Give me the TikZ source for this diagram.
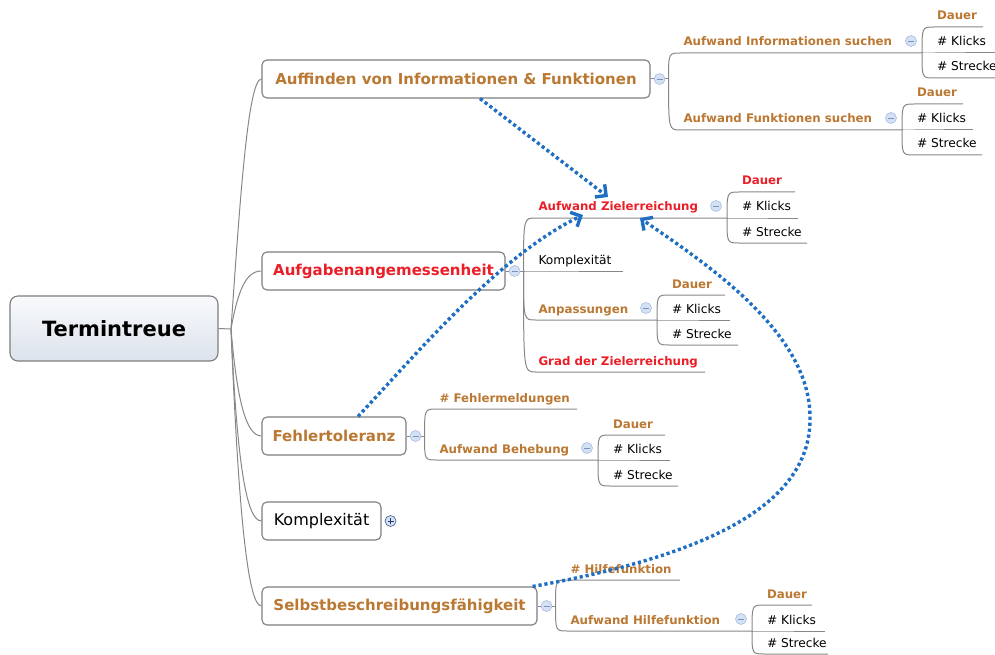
\documentclass[tikz,border=0pt]{standalone}
\usepackage{fontspec}
\setmainfont{DejaVu Sans}
\usetikzlibrary{calc,arrows.meta}

\definecolor{linegray}{RGB}{135,135,135}
\definecolor{boxgray}{RGB}{125,125,125}
\definecolor{mmbrown}{RGB}{186,120,50}
\definecolor{mmred}{RGB}{235,30,40}
\definecolor{linkblue}{RGB}{30,110,195}
\definecolor{cfill}{RGB}{212,225,245}
\definecolor{cdraw}{RGB}{165,188,225}
\definecolor{csign}{RGB}{125,145,185}
\definecolor{pdraw}{RGB}{80,105,150}
\definecolor{psign}{RGB}{40,60,100}
\definecolor{roottop}{RGB}{248,250,252}
\definecolor{rootbot}{RGB}{220,226,236}

\newcommand\fontroot{\fontsize{21}{25}\selectfont\bfseries}
\newcommand\fonttopic{\fontsize{15}{18}\selectfont\bfseries}
\newcommand\fonttopicreg{\fontsize{16}{19}\selectfont}
\newcommand\fontsub{\fontsize{11.8}{14}\selectfont\bfseries}
\newcommand\fontsubreg{\fontsize{12.2}{14}\selectfont}

% one sub-topic: curved connector from the hub, underline, label above it
% #1 hub, #2 name (end of underline), #3 end point, #4 label style, #5 text
\newcommand\mmleaf[5]{%
  \coordinate (#2) at #3;
  \draw[conn] (#1) .. controls (#1 |- #2) .. ($(#1 |- #2)+(12,0)$) -- (#2);
  \node[#4] (#2-t) at ($(#1 |- #2)+(15,-7)$) {#5};
}

\begin{document}
\begin{tikzpicture}[x=1pt,y=-1pt,
  conn/.style={draw=linegray, line width=1pt},
  topic/.style={draw=boxgray, line width=1.1pt, rounded corners=5pt, fill=white,
    minimum height=38pt, inner sep=0pt},
  lbl/.style={anchor=base west, inner sep=0pt, outer sep=0pt},
  subbrown/.style={lbl, text=mmbrown, font=\fontsub},
  subred/.style={lbl, text=mmred, font=\fontsub},
  subplain/.style={lbl, text=black, font=\fontsubreg},
  collapse/.style={circle, draw=cdraw, fill=cfill, line width=0.6pt,
    minimum size=11pt, inner sep=0pt,
    path picture={\draw[csign, line width=0.9pt]
      ([xshift=-3pt]path picture bounding box.center) --
      ([xshift=3pt]path picture bounding box.center);}},
  expand/.style={circle, draw=pdraw, fill=cfill, line width=0.7pt,
    minimum size=11pt, inner sep=0pt,
    path picture={\draw[psign, line width=0.9pt]
      ([xshift=-3pt]path picture bounding box.center) --
      ([xshift=3pt]path picture bounding box.center)
      ([yshift=-3pt]path picture bounding box.center) --
      ([yshift=3pt]path picture bounding box.center);}},
  link/.style={draw=linkblue, line width=3.4pt, dash pattern=on 3.2pt off 2.8pt,
    -{Straight Barb[length=8pt,width=16pt]}},
]
\useasboundingbox (0,0) rectangle (995,655);

% central topic
\node[draw=boxgray, line width=1.1pt, rounded corners=8pt,
  top color=roottop, bottom color=rootbot,
  minimum width=208pt, minimum height=65pt, inner sep=0pt, font=\fontroot]
  (R) at (114,328.5) {Termintreue};
\coordinate (Rh) at (231,329);

% main topics
\node[topic, minimum width=388pt, text=mmbrown, font=\fonttopic] (A) at (456,79)
  {Auffinden von Informationen \& Funktionen};
\node[topic, minimum width=243pt, text=mmred, font=\fonttopic] (B) at (383.5,271)
  {Aufgabenangemessenheit};
\node[topic, minimum width=144pt, text=mmbrown, font=\fonttopic] (C) at (334,436)
  {Fehlertoleranz};
\node[topic, minimum width=119pt, text=black, font=\fonttopicreg] (D) at (321.5,521)
  {Komplexität};
\node[topic, minimum width=275pt, text=mmbrown, font=\fonttopic] (E) at (399.5,606)
  {Selbstbeschreibungsfähigkeit};

% connectors from the central topic
\draw[conn] (R.east) -- (Rh);
\draw[conn] (Rh) .. controls (240,200) and (248,79) .. (A.west);
\draw[conn] (Rh) .. controls (238,290) and (246,271) .. (B.west);
\draw[conn] (Rh) .. controls (237,400) and (246,436) .. (C.west);
\draw[conn] (Rh) .. controls (237,460) and (246,521) .. (D.west);
\draw[conn] (Rh) .. controls (238,500) and (247,606) .. (E.west);

% hubs of the main topics
\foreach \t in {A,B,C,E} {
  \coordinate (\t h) at ($(\t.east)+(18,0)$);
  \draw[conn] (\t.east) -- (\t h);
}

% Auffinden von Informationen & Funktionen
\mmleaf{Ah}{A1}{(922,53)}{subbrown}{Aufwand Informationen suchen}
\mmleaf{Ah}{A2}{(902,130)}{subbrown}{Aufwand Funktionen suchen}
\mmleaf{A1}{A1a}{(983,27)}{subbrown}{Dauer}
\mmleaf{A1}{A1b}{(995,53)}{subplain}{\# Klicks}
\mmleaf{A1}{A1c}{(995,78)}{subplain}{\# Strecke}
\mmleaf{A2}{A2a}{(963,104)}{subbrown}{Dauer}
\mmleaf{A2}{A2b}{(973,130)}{subplain}{\# Klicks}
\mmleaf{A2}{A2c}{(982,155)}{subplain}{\# Strecke}

% Aufgabenangemessenheit
\mmleaf{Bh}{B1}{(727,218)}{subred}{Aufwand Zielerreichung}
\mmleaf{Bh}{B2}{(623,271)}{subplain}{Komplexität}
\mmleaf{Bh}{B3}{(657,320)}{subbrown}{Anpassungen}
\mmleaf{Bh}{B4}{(705,372)}{subred}{Grad der Zielerreichung}
\mmleaf{B1}{B1a}{(795,192)}{subred}{Dauer}
\mmleaf{B1}{B1b}{(798,218)}{subplain}{\# Klicks}
\mmleaf{B1}{B1c}{(807,243)}{subplain}{\# Strecke}
\mmleaf{B3}{B3a}{(725,295)}{subbrown}{Dauer}
\mmleaf{B3}{B3b}{(730,320)}{subplain}{\# Klicks}
\mmleaf{B3}{B3c}{(738,345)}{subplain}{\# Strecke}

% Fehlertoleranz
\mmleaf{Ch}{C1}{(577,409)}{subbrown}{\# Fehlermeldungen}
\mmleaf{Ch}{C2}{(598,460)}{subbrown}{Aufwand Behebung}
\mmleaf{C2}{C2a}{(665,435)}{subbrown}{Dauer}
\mmleaf{C2}{C2b}{(670,460)}{subplain}{\# Klicks}
\mmleaf{C2}{C2c}{(678,486)}{subplain}{\# Strecke}

% Selbstbeschreibungsfähigkeit
\mmleaf{Eh}{E1}{(680,580)}{subbrown}{\# Hilfefunktion}
\mmleaf{Eh}{E2}{(752,631)}{subbrown}{Aufwand Hilfefunktion}
\mmleaf{E2}{E2a}{(812,605)}{subbrown}{Dauer}
\mmleaf{E2}{E2b}{(825,631)}{subplain}{\# Klicks}
\mmleaf{E2}{E2c}{(828,654)}{subplain}{\# Strecke}

% collapse / expand buttons
\foreach \t in {A,B,C,E} {
  \node[collapse] (c\t) at ($(\t.east)+(9,0)$) {};
}
\node[expand] (cD) at ($(D.east)+(9,0)$) {};
\foreach \t in {A1,A2,B1,B3,C2,E2} {
  \node[collapse] (c\t) at ($(\t)+(-11,-12)$) {};
}

% relationship arrows
\coordinate (tipA) at (608,197);
\coordinate (tipC) at (583,215);
\coordinate (tipE) at (640,218);
\draw[link] ([xshift=24pt]A.south) -- (tipA);
\draw[link] ([xshift=24pt]C.north) .. controls (420,350) and (500,255) .. (tipC);
\draw[link] ([xshift=-5pt]E.north east) .. controls (680,560) and (812,515) .. (810,417)
  .. controls (810,330) and (700,260) .. (tipE);
\end{tikzpicture}
\end{document}
